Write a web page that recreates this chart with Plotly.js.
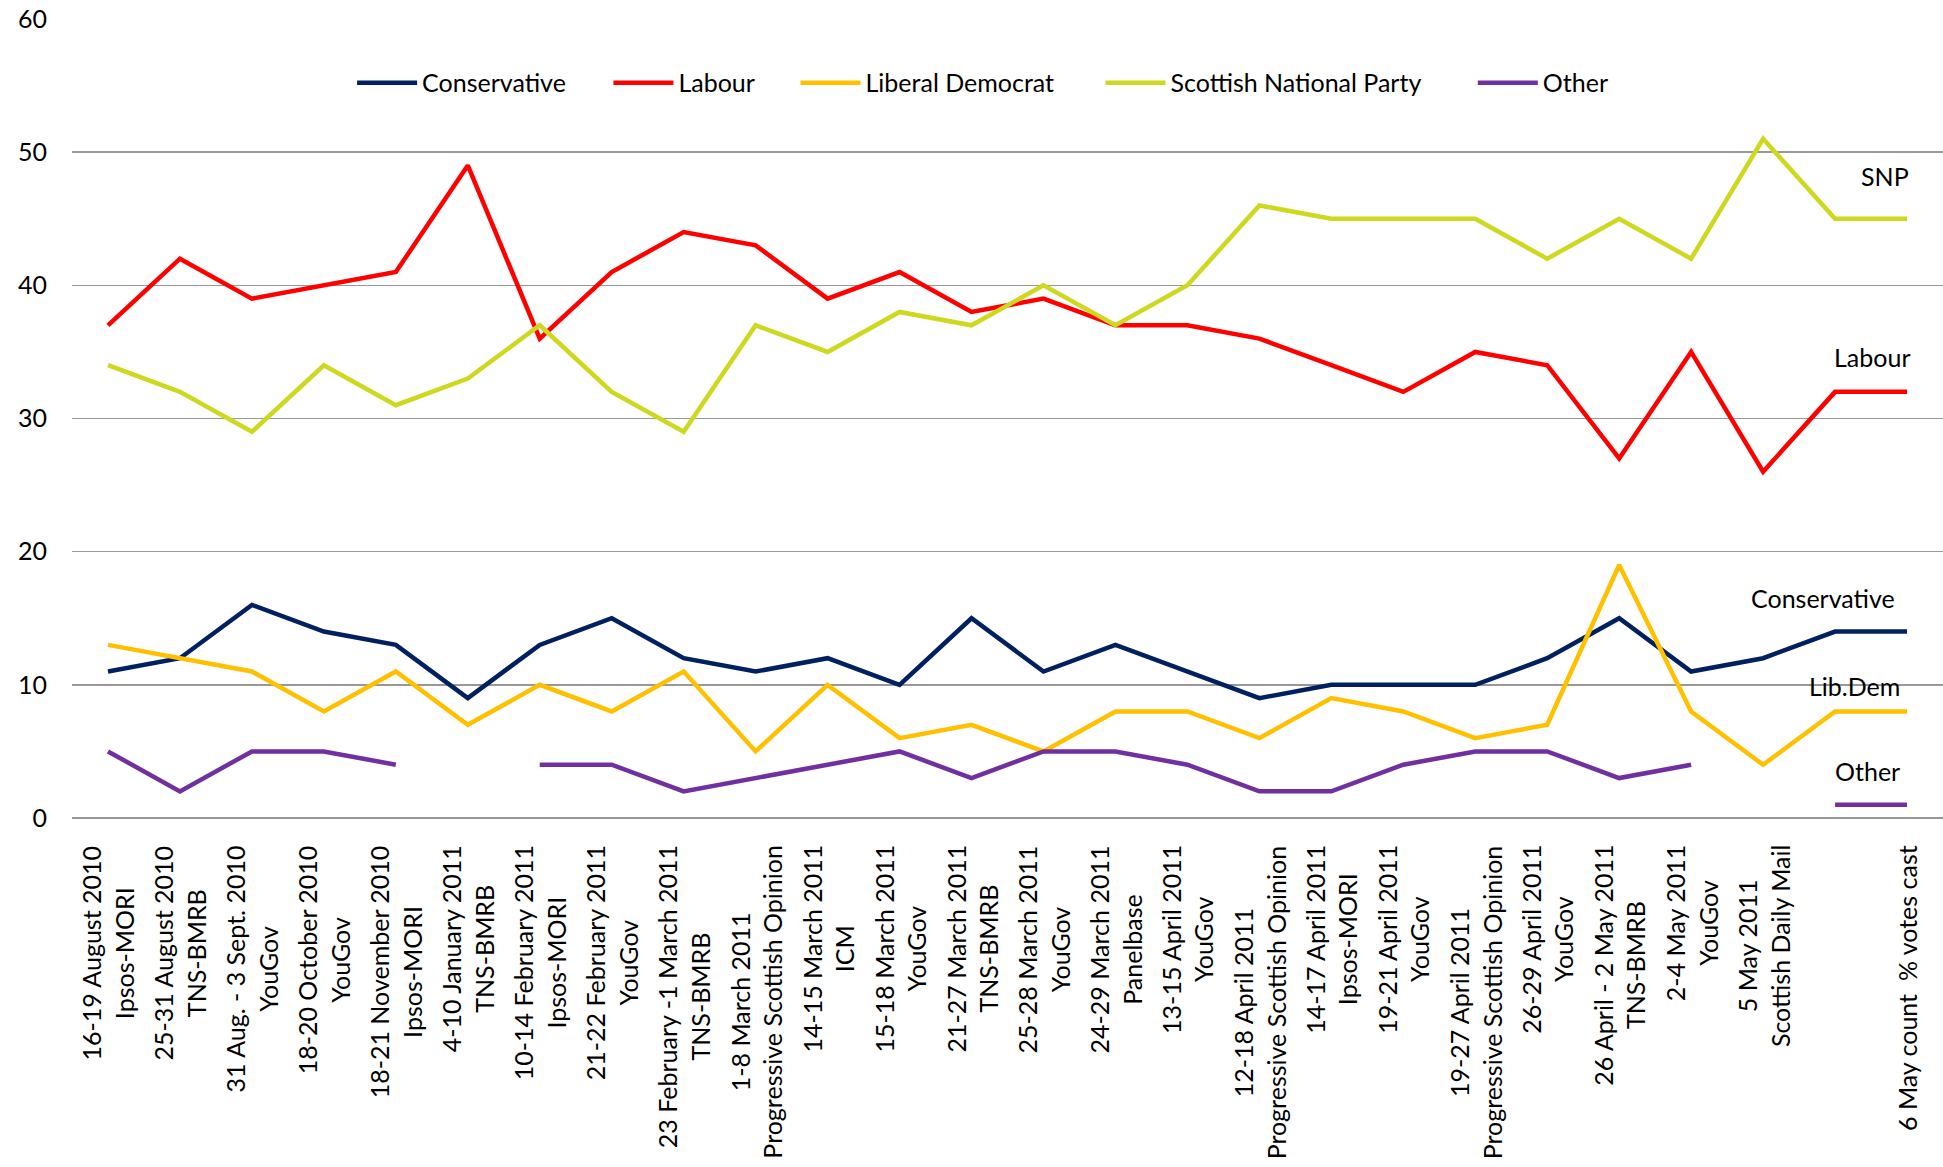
<!DOCTYPE html>
<html>
<head>
<meta charset="utf-8">
<script src="https://cdn.plot.ly/plotly-3.0.1.min.js"></script>
<style>
html, body { margin: 0; padding: 0; background: #ffffff; }
#chart { width: 1943px; height: 1167px; }
</style>
</head>
<body>
<div id="chart"></div>
<script>
// Poll dates (first line of each category label)
const pollDates = [
  "16-19 August 2010", "25-31 August 2010", "31 Aug. - 3 Sept. 2010", "18-20 October 2010",
  "18-21 November 2010", "4-10 January 2011", "10-14 February 2011", "21-22 February 2011",
  "23 February -1 March 2011", "1-8 March 2011", "14-15 March 2011", "15-18 March 2011",
  "21-27 March 2011", "25-28 March 2011", "24-29 March 2011", "13-15 April 2011",
  "12-18 April 2011", "14-17 April 2011", "19-21 April 2011", "19-27 April 2011",
  "26-29 April 2011", "26 April - 2 May 2011", "2-4 May 2011", "5 May 2011",
  "", "6 May count  % votes cast"
];
// Pollsters (second line of each category label)
const pollsters = [
  "Ipsos-MORI", "TNS-BMRB", "YouGov", "YouGov",
  "Ipsos-MORI", "TNS-BMRB", "Ipsos-MORI", "YouGov",
  "TNS-BMRB", "Progressive Scottish Opinion", "ICM", "YouGov",
  "TNS-BMRB", "YouGov", "Panelbase", "YouGov",
  "Progressive Scottish Opinion", "Ipsos-MORI", "YouGov", "Progressive Scottish Opinion",
  "YouGov", "TNS-BMRB", "YouGov", "Scottish Daily Mail",
  "", ""
];

const conservative = [11, 12, 16, 14, 13, 9, 13, 15, 12, 11, 12, 10, 15, 11, 13, 11, 9, 10, 10, 10, 12, 15, 11, 12, 14, 14];
const labour       = [37, 42, 39, 40, 41, 49, 36, 41, 44, 43, 39, 41, 38, 39, 37, 37, 36, 34, 32, 35, 34, 27, 35, 26, 32, 32];
const libDem       = [13, 12, 11, 8, 11, 7, 10, 8, 11, 5, 10, 6, 7, 5, 8, 8, 6, 9, 8, 6, 7, 19, 8, 4, 8, 8];
const snp          = [34, 32, 29, 34, 31, 33, 37, 32, 29, 37, 35, 38, 37, 40, 37, 40, 46, 45, 45, 45, 42, 45, 42, 51, 45, 45];
const other        = [5, 2, 5, 5, 4, null, 4, 4, 2, 3, 4, 5, 3, 5, 5, 4, 2, 2, 4, 5, 5, 3, 4, null, 1, 1];

const seriesNames = ["Conservative", "Labour", "Liberal Democrat", "Scottish National Party", "Other"];
const seriesColors = ["#002060", "#FF0000", "#FFC000", "#CDD81E", "#7030A0"];
const seriesValues = [conservative, labour, libDem, snp, other];

const endLabels = ["SNP", "Labour", "Conservative", "Lib.Dem", "Other"];
const endLabelY = [48.2, 34.6, 16.5, 9.9, 3.5];
const endLabelX = [0.983, 0.9834, 0.9754, 0.978, 0.978];

// legend entry positions (paper x of each entry's left edge)
const legendX = [0.1497, 0.2867, 0.3867, 0.5497, 0.7487];
const legendIds = ["legend", "legend2", "legend3", "legend4", "legend5"];

const FONT = "Lato, 'Open Sans', sans-serif";
const xIdx = pollDates.map((_, i) => i);

const traces = seriesNames.map((name, k) => ({
  type: "scatter",
  mode: "lines",
  name: name,
  legend: legendIds[k],
  x: xIdx,
  y: seriesValues[k],
  connectgaps: false,
  line: { color: seriesColors[k], width: 4.5 },
  hoverinfo: "x+y+name"
}));

const annotations = [];
pollDates.forEach((d, i) => {
  const parts = [d, pollsters[i]].filter(s => s !== "");
  if (parts.length === 0) return;
  annotations.push({
    xref: "x", yref: "paper",
    x: i, y: 0,
    xanchor: "center", yanchor: "top",
    yshift: -25,
    textangle: -90,
    align: "center",
    showarrow: false,
    text: parts.join("<br>"),
    font: { family: FONT, size: 25, color: "#000000" }
  });
});
endLabels.forEach((t, k) => {
  annotations.push({
    xref: "paper", yref: "y",
    x: endLabelX[k], y: endLabelY[k],
    xanchor: "right", yanchor: "middle",
    showarrow: false,
    text: t,
    font: { family: FONT, size: 25, color: "#000000" }
  });
});

const layout = {
  width: 1943,
  height: 1167,
  margin: { l: 72, r: 0, t: 19, b: 349 },
  paper_bgcolor: "#ffffff",
  plot_bgcolor: "#ffffff",
  font: { family: FONT, size: 25, color: "#000000" },
  showlegend: true,
  xaxis: {
    type: "linear",
    range: [-0.5, 25.5],
    showgrid: false,
    zeroline: false,
    showline: false,
    showticklabels: false,
    ticks: ""
  },
  yaxis: {
    range: [0, 60],
    tick0: 0,
    dtick: 10,
    showgrid: true,
    gridcolor: "#989898",
    gridwidth: 1.5,
    zeroline: true,
    zerolinecolor: "#989898",
    zerolinewidth: 1.5,
    showline: false,
    ticks: "",
    ticklabelstandoff: 24,
    tickfont: { family: FONT, size: 25, color: "#000000" }
  },
  annotations: annotations
};
legendIds.forEach((id, k) => {
  layout[id] = {
    orientation: "h",
    x: legendX[k], xanchor: "left",
    y: 0.92, yanchor: "middle",
    bgcolor: "rgba(0,0,0,0)",
    itemwidth: 60,
    font: { family: FONT, size: 25, color: "#000000" }
  };
});

Plotly.newPlot("chart", traces, layout, { displayModeBar: false, staticPlot: true });
</script>
</body>
</html>
